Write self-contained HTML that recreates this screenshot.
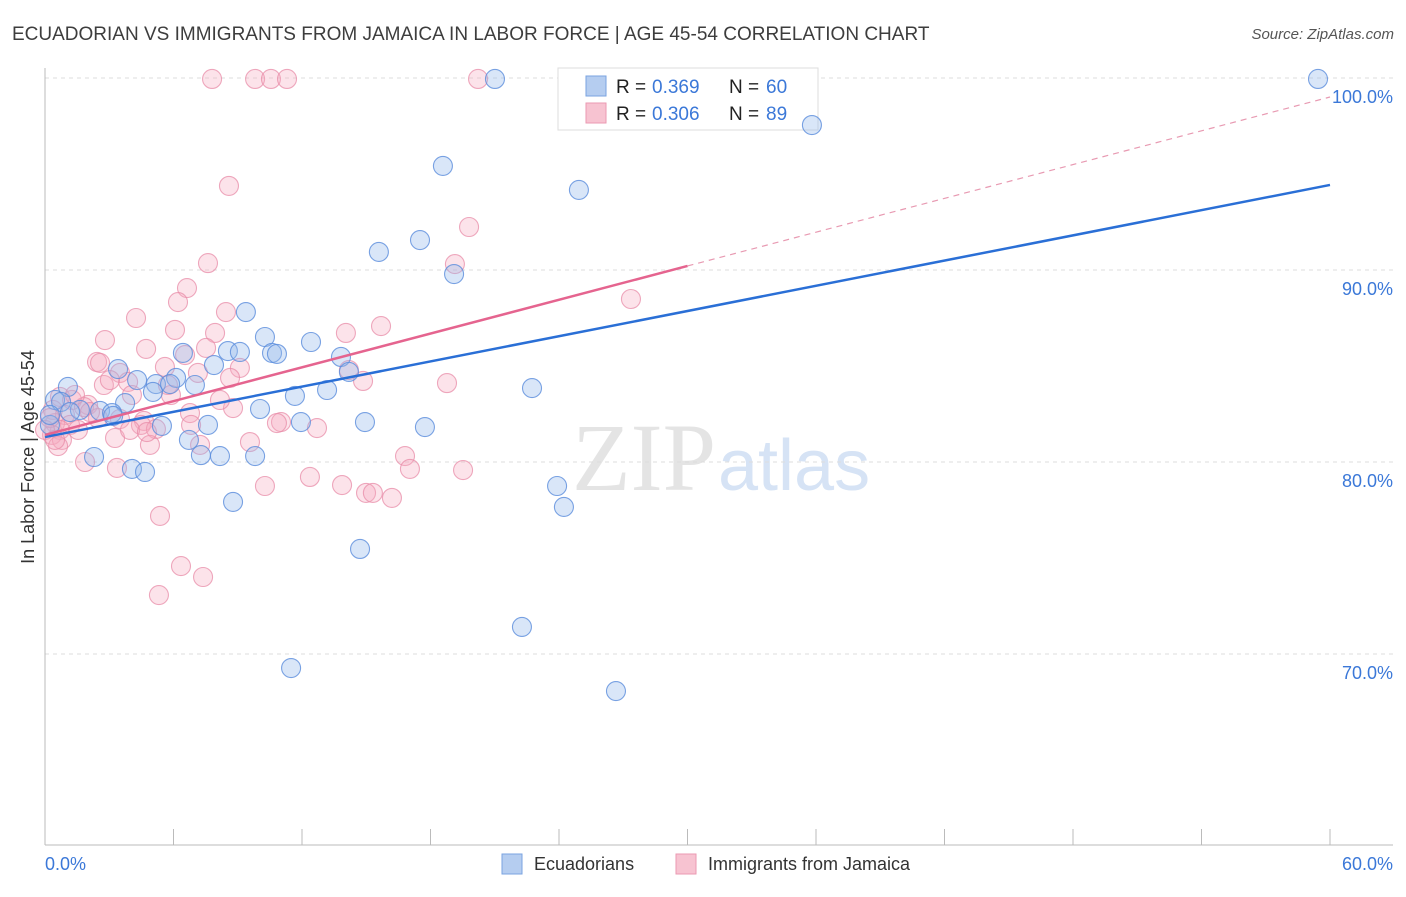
<!DOCTYPE html>
<html><head><meta charset="utf-8"><style>
body{margin:0;background:#fff;font-family:"Liberation Sans",sans-serif;}
</style></head><body>
<svg id="chart" width="1406" height="892" xmlns="http://www.w3.org/2000/svg">
<text x="12" y="40" font-size="19" fill="#3d3d3d">ECUADORIAN VS IMMIGRANTS FROM JAMAICA IN LABOR FORCE | AGE 45-54 CORRELATION CHART</text>
<text x="1394" y="39" font-size="15" fill="#555" font-style="italic" text-anchor="end">Source: ZipAtlas.com</text>
<text x="716" y="490" font-size="96" fill="#e4e4e4" text-anchor="end" font-family="Liberation Serif,serif">ZIP</text>
<text x="718" y="490" font-size="72" fill="#d6e3f5">atlas</text>
<g id="grid"></g><g id="axes"></g>
<g>
<rect x="558" y="68" width="260" height="62" fill="#fff" stroke="#ddd"/>
<rect x="586" y="76" width="20" height="20" fill="#b5cdf0" stroke="#7aa3e0"/>
<rect x="586" y="103" width="20" height="20" fill="#f7c3d1" stroke="#eb9ab2"/>
<text x="616" y="93" font-size="19" fill="#222">R =</text><text x="652" y="93" font-size="19" fill="#3b78d8">0.369</text>
<text x="729" y="93" font-size="19" fill="#222">N =</text><text x="766" y="93" font-size="19" fill="#3b78d8">60</text>
<text x="616" y="120" font-size="19" fill="#222">R =</text><text x="652" y="120" font-size="19" fill="#3b78d8">0.306</text>
<text x="729" y="120" font-size="19" fill="#222">N =</text><text x="766" y="120" font-size="19" fill="#3b78d8">89</text>
</g>
<g id="pts"></g><g id="lines"></g>
<text transform="translate(34,457) rotate(-90)" font-size="18" fill="#333" text-anchor="middle">In Labor Force | Age 45-54</text>
<text x="45" y="870" font-size="18" fill="#3b78d8">0.0%</text>
<text x="1393" y="870" font-size="18" fill="#3b78d8" text-anchor="end">60.0%</text>
<g>
<rect x="502" y="854" width="20" height="20" fill="#b5cdf0" stroke="#7aa3e0"/>
<text x="534" y="870" font-size="18" fill="#333">Ecuadorians</text>
<rect x="676" y="854" width="20" height="20" fill="#f7c3d1" stroke="#eb9ab2"/>
<text x="708" y="870" font-size="18" fill="#333">Immigrants from Jamaica</text>
</g>
</svg>
<script>
const yTicks=[100,90,80,70];
const yTickLabels=["100.0%","90.0%","80.0%","70.0%"];
const xTicks=[0,6,12,18,24,30,36,42,48,54,60];
const blueX=[59.44,21.01,35.81,18.58,24.93,17.51,15.59,19.10,9.38,10.27,12.42,6.44,8.54,9.10,10.60,10.83,13.82,7.89,3.41,14.19,4.30,6.12,1.07,5.18,7.00,5.04,22.74,13.17,11.67,5.84,0.47,0.75,3.74,2.57,10.04,3.13,1.63,3.18,1.17,14.94,11.95,7.61,5.46,17.74,0.23,6.72,2.29,7.28,8.17,9.81,4.06,4.67,23.91,8.78,24.23,14.71,22.27,11.49,26.66,0.23];
const blueY=[99.95,99.95,97.55,95.42,94.17,91.56,90.94,89.79,87.81,86.51,86.25,85.68,85.78,85.73,85.68,85.63,85.47,85.05,84.84,84.69,84.27,84.38,83.91,84.06,84.01,83.65,83.85,83.75,83.44,84.06,83.23,83.13,83.07,82.66,82.76,82.55,82.71,82.40,82.60,82.08,82.08,81.93,81.88,81.82,81.93,81.15,80.26,80.36,80.31,80.31,79.64,79.48,78.75,77.92,77.66,75.47,71.41,69.27,68.07,82.45];
const pinkX=[7.80,9.81,10.55,11.30,20.22,8.59,19.80,7.61,19.14,27.36,6.63,6.21,8.45,4.25,6.07,7.94,14.05,15.69,2.80,4.72,7.52,2.43,2.57,5.60,9.10,3.50,8.64,3.88,2.75,3.03,5.74,7.14,14.85,18.77,14.19,5.88,4.06,0.70,1.26,2.01,0.37,1.82,0.93,2.47,6.77,8.78,4.62,3.50,0.47,1.17,4.48,11.02,10.83,12.70,0.70,1.54,6.82,5.18,0.33,0.79,3.27,4.90,9.57,7.24,0.61,1.87,3.36,16.81,17.04,19.52,12.37,10.27,13.87,14.99,15.31,16.20,5.37,6.35,7.38,5.32,0.23,0,2.10,3.97,1.40,0.47,4.76,8.17,6.54];
const pinkY=[99.95,99.95,99.95,99.95,99.95,94.38,92.24,90.36,90.31,88.49,89.06,88.33,87.81,87.50,86.88,86.72,86.72,87.08,86.35,85.89,85.94,85.21,85.16,84.95,84.90,84.64,84.38,84.17,84.01,84.27,84.01,84.64,84.22,84.11,84.79,83.49,83.49,83.39,83.23,82.97,82.71,82.86,82.45,82.29,82.55,82.81,82.14,82.24,82.03,81.93,81.93,82.08,82.03,81.77,81.67,81.67,81.93,81.72,81.41,81.15,81.25,80.89,81.04,80.89,80.83,80.00,79.69,80.31,79.64,79.58,79.22,78.75,78.80,78.39,78.39,78.13,77.19,74.58,74.01,73.07,82.29,81.67,82.60,81.67,83.49,81.15,81.56,83.23,85.57];
const blueTrend=[81.30,94.43];
const pinkTrend=[81.41,99.01];
const pinkSolidEnd=30;
const X=v=>45+v/60*1285, Y=v=>78+(100-v)*19.2;
const NS="http://www.w3.org/2000/svg";
function mk(tag,attrs,parent){const e=document.createElementNS(NS,tag);for(const k in attrs)e.setAttribute(k,attrs[k]);parent.appendChild(e);return e;}
const grid=document.getElementById('grid'),axes=document.getElementById('axes'),pts=document.getElementById('pts'),lines=document.getElementById('lines');
yTicks.forEach((t,i)=>{
 const l=mk('line',{x1:45,x2:1393,y1:Y(t),y2:Y(t),stroke:'#ddd','stroke-dasharray':'4,4'},grid);
 
 
 const tx=mk('text',{x:1393,y:Y(t)+25,'font-size':18,fill:'#3b78d8','text-anchor':'end'},grid);
 tx.textContent=yTickLabels[i];
 
 
});
const ya=mk('line',{x1:45,x2:45,y1:68,y2:845,stroke:'#bbb'},axes);


const xa=mk('line',{x1:45,x2:1393,y1:845,y2:845,stroke:'#bbb'},axes);


xTicks.forEach(t=>{
 const l=mk('line',{x1:X(t),x2:X(t),y1:829,y2:845,stroke:'#bbb'},axes);
 
 
});
function dots(xs,ys,fill,stroke,name){xs.forEach((x,i)=>{
 const c=mk('circle',{cx:X(x),cy:Y(ys[i]),r:9.5,fill:fill,stroke:stroke,'stroke-width':1.1},pts);
 
 
});}
dots(pinkX,pinkY,'rgba(245,170,192,0.33)','rgba(232,140,168,0.75)','point-jamaica');
dots(blueX,blueY,'rgba(150,185,235,0.36)','rgba(90,140,220,0.8)','point-ecuadorian');
const bl=mk('line',{x1:X(0),y1:Y(blueTrend[0]),x2:X(60),y2:Y(blueTrend[1]),stroke:'#2a6fd6','stroke-width':2.5},lines);


const pm=pinkTrend[0]+(pinkTrend[1]-pinkTrend[0])*pinkSolidEnd/60;
const pl=mk('line',{x1:X(0),y1:Y(pinkTrend[0]),x2:X(pinkSolidEnd),y2:Y(pm),stroke:'#e5648f','stroke-width':2.5},lines);


const pd=mk('line',{x1:X(pinkSolidEnd),y1:Y(pm),x2:X(60),y2:Y(pinkTrend[1]),stroke:'#e89ab2','stroke-width':1.2,'stroke-dasharray':'6,5'},lines);


</script>
</body></html>
